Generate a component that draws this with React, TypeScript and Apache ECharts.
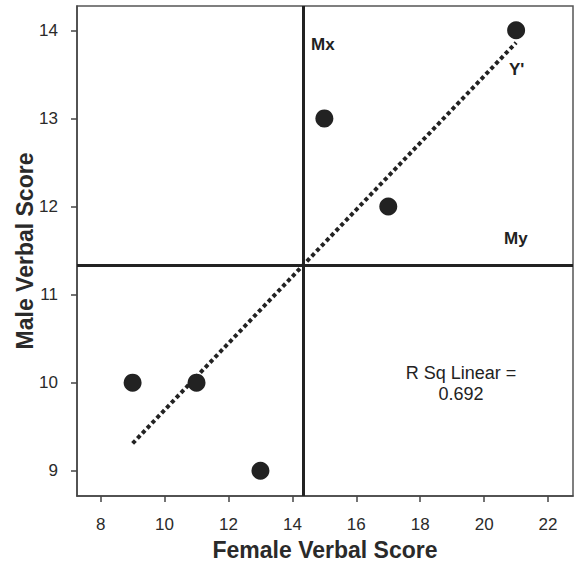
import React, { useEffect, useRef } from "react";
import * as echarts from "echarts";

const femaleScores = [9, 11, 13, 15, 17, 21];
const maleScores = [10, 10, 9, 13, 12, 14];
const meanX = 14.33;
const meanY = 11.33;
const fitLine = [
  [9, 9.31],
  [21, 13.86],
];
const xTicks = [8, 10, 12, 14, 16, 18, 20, 22];
const yTicks = [9, 10, 11, 12, 13, 14];
const rSqText = ["R Sq Linear =", "0.692"];

export default function App() {
  const ref = useRef<HTMLDivElement>(null);
  useEffect(() => {
    if (!ref.current) return;
    const chart = echarts.init(ref.current, null, { renderer: "svg" });
    const font = "'Liberation Sans', Arial, sans-serif";
    const points = femaleScores.map((x, i) => [x, maleScores[i]]);
    chart.setOption({
      animation: false,
      grid: {
        left: 77,
        right: 4,
        top: 6,
        bottom: 68,
        containLabel: false,
        outerBoundsMode: "none",
        show: true,
        borderColor: "#555",
        borderWidth: 1.5,
        backgroundColor: "#fff",
      },
      xAxis: {
        type: "value",
        min: 7.26,
        max: 22.78,
        name: "Female Verbal Score",
        nameLocation: "middle",
        nameGap: 42,
        nameMoveOverlap: false,
        nameTextStyle: { fontFamily: font, fontSize: 23, fontWeight: "bold", color: "#2a2a2a" },
        axisLine: { show: true, onZero: false, lineStyle: { color: "#444", width: 1.5 } },
        axisTick: { show: true, length: 6, lineStyle: { color: "#444", width: 1.5 }, customValues: xTicks },
        axisLabel: {
          fontFamily: font,
          fontSize: 17,
          color: "#2a2a2a",
          margin: 20,
          customValues: xTicks,
        },
        splitLine: { show: false },
      },
      yAxis: {
        type: "value",
        min: 8.713,
        max: 14.276,
        name: "Male Verbal Score",
        nameLocation: "middle",
        nameGap: 41,
        nameMoveOverlap: false,
        nameTextStyle: { fontFamily: font, fontSize: 23, fontWeight: "bold", color: "#2a2a2a" },
        axisLine: { show: true, onZero: false, lineStyle: { color: "#444", width: 1.5 } },
        axisTick: { show: true, length: 6, lineStyle: { color: "#444", width: 1.5 }, customValues: yTicks },
        axisLabel: {
          fontFamily: font,
          fontSize: 17,
          color: "#2a2a2a",
          margin: 19,
          customValues: yTicks,
        },
        splitLine: { show: false },
      },
      series: [
        {
          type: "line",
          data: fitLine,
          symbol: "none",
          lineStyle: { color: "#222", width: 4, type: [4, 3] },
          z: 2,
          markLine: {
            symbol: "none",
            silent: true,
            label: { show: false },
            lineStyle: { color: "#222", width: 3, type: "solid" },
            data: [{ xAxis: meanX }, { yAxis: meanY }],
          },
        },
        {
          type: "scatter",
          data: points,
          symbol: "circle",
          symbolSize: 18,
          itemStyle: { color: "#222", opacity: 1 },
          z: 3,
        },
      ],
      graphic: [
        {
          type: "text",
          left: 311,
          top: 36,
          style: { text: "Mx", font: `bold 17px ${font}`, fill: "#222" },
        },
        {
          type: "text",
          left: 509,
          top: 61,
          style: { text: "Y'", font: `bold 17px ${font}`, fill: "#222" },
        },
        {
          type: "text",
          left: 504,
          top: 230,
          style: { text: "My", font: `bold 17px ${font}`, fill: "#222" },
        },
        {
          type: "text",
          x: 461,
          y: 362,
          style: {
            text: rSqText.join("\n"),
            font: `18px ${font}`,
            fill: "#222",
            align: "center",
            verticalAlign: "top",
            lineHeight: 21,
          },
        },
      ],
    });
    return () => chart.dispose();
  }, []);
  return <div ref={ref} style={{ width: 577, height: 564, position: "absolute", left: 0, top: 0, background: "#fff" }} />;
}
